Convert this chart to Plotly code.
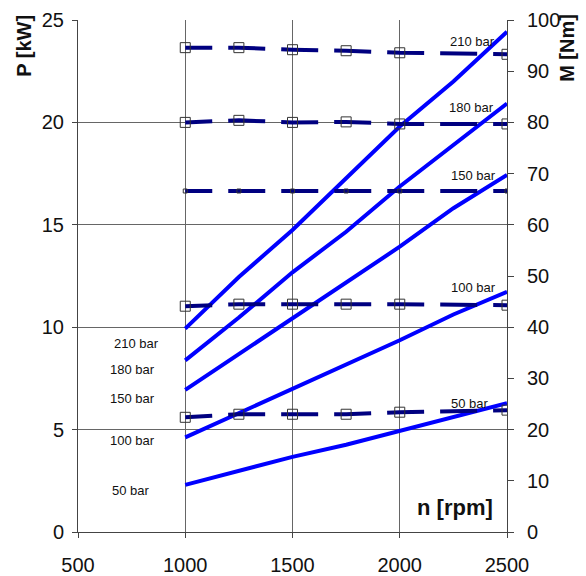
import plotly.graph_objects as go

# engine speed [rpm]
n_power = [1000, 1250, 1500, 1750, 2000, 2250, 2500]
n_torque = [1000, 1250, 1500, 1750, 2000, 2500]

# power P [kW] per pressure level
p_210 = [9.93, 12.45, 14.75, 17.28, 19.8, 22.0, 24.43]
p_180 = [8.38, 10.47, 12.68, 14.66, 16.87, 18.88, 20.92]
p_150 = [6.94, 8.69, 10.44, 12.21, 13.93, 15.81, 17.44]
p_100 = [4.62, 5.80, 6.97, 8.14, 9.36, 10.62, 11.73]
p_50 = [2.30, 2.99, 3.67, 4.26, 4.95, 5.60, 6.29]

# torque M [Nm] per pressure level
m_210 = [94.6, 94.6, 94.2, 94.0, 93.6, 93.3]
m_180 = [80.0, 80.4, 80.0, 80.1, 79.7, 79.7]
m_150 = [66.6, 66.6, 66.6, 66.6, 66.6, 66.6]
m_100 = [44.1, 44.5, 44.5, 44.5, 44.5, 44.3]
m_50 = [22.4, 23.0, 23.0, 23.0, 23.4, 23.8]

labels = ["210 bar", "180 bar", "150 bar", "100 bar", "50 bar"]

FONT = "Liberation Sans, Arial, sans-serif"
dash = "27px,16px" + ",37px,16px" * 8

fig = go.Figure()

for p in [p_210, p_180, p_150, p_100, p_50]:
    fig.add_trace(go.Scatter(x=n_power, y=p, mode="lines",
                             line=dict(color="#0000FF", width=4),
                             showlegend=False))

for m, msize in [(m_210, 10), (m_180, 10), (m_150, 4), (m_100, 10), (m_50, 10)]:
    fig.add_trace(go.Scatter(x=n_torque, y=m, mode="lines+markers", yaxis="y2",
                             line=dict(color="#000080", width=4, dash=dash),
                             marker=dict(symbol="square-open", size=msize, color="#333",
                                         line=dict(width=1, color="#333")),
                             showlegend=False))

# curve labels (left and right side)
left_pos = [(775, 9.22), (756, 7.92), (756, 6.53), (756, 4.46), (748, 2.04)]
right_pos = [(2339, 23.96), (2335, 20.75), (2342, 17.43), (2346, 11.96), (2328, 6.28)]
for lab, (lx, ly), (rx, ry) in zip(labels, left_pos, right_pos):
    for xx, yy in [(lx, ly), (rx, ry)]:
        fig.add_annotation(x=xx, y=yy, text=lab, showarrow=False,
                           font=dict(family=FONT, size=13, color="#111"))

fig.add_annotation(x=2257, y=1.2, text="<b>n [rpm]</b>", showarrow=False,
                   font=dict(family=FONT, size=22, color="#111"))
fig.add_annotation(x=-0.126, y=1.014, xref="paper", yref="paper", text="<b>P [kW]</b>",
                   textangle=-90, showarrow=False, xanchor="center", yanchor="top",
                   font=dict(family=FONT, size=20, color="#111"))
fig.add_annotation(x=1.140, y=1.016, xref="paper", yref="paper", text="<b>M [Nm]</b>",
                   textangle=-90, showarrow=False, xanchor="center", yanchor="top",
                   font=dict(family=FONT, size=20, color="#111"))

axis_font = dict(family=FONT, size=20, color="#111")
fig.update_layout(
    width=586, height=576,
    margin=dict(l=78, r=79, t=20, b=44, autoexpand=False),
    paper_bgcolor="white", plot_bgcolor="white",
    font=dict(family=FONT),
    xaxis=dict(range=[500, 2500], dtick=500, showgrid=True, gridcolor="#666", gridwidth=1,
               showline=True, linecolor="#444", linewidth=1, ticks="outside", ticklen=5,
               tickcolor="#444", tickfont=axis_font, zeroline=False, automargin=False,
               ticklabelstandoff=10),
    yaxis=dict(range=[0, 25], dtick=5, showgrid=True, gridcolor="#666", gridwidth=1,
               showline=True, linecolor="#444", linewidth=1, ticks="outside", ticklen=5,
               tickcolor="#444", tickfont=axis_font, zeroline=False, ticklabelstandoff=4,
               automargin=False),
    yaxis2=dict(range=[0, 100], dtick=10, overlaying="y", side="right", showgrid=False,
                showline=True, linecolor="#444", linewidth=1, ticks="outside", ticklen=6,
                tickcolor="#444", tickfont=axis_font, zeroline=False, ticklabelstandoff=9,
                automargin=False),
    yaxis3=dict(range=[0, 100], dtick=10, overlaying="y", side="right", showgrid=False,
                showline=False, ticks="inside", ticklen=6, tickcolor="#444",
                showticklabels=False, zeroline=False, automargin=False),
)

# drop the browser's default 8px page margin so the figure fills the window
fig.write_html("out.html", config={"displayModeBar": False},
               post_script="document.body.style.margin='0';")
